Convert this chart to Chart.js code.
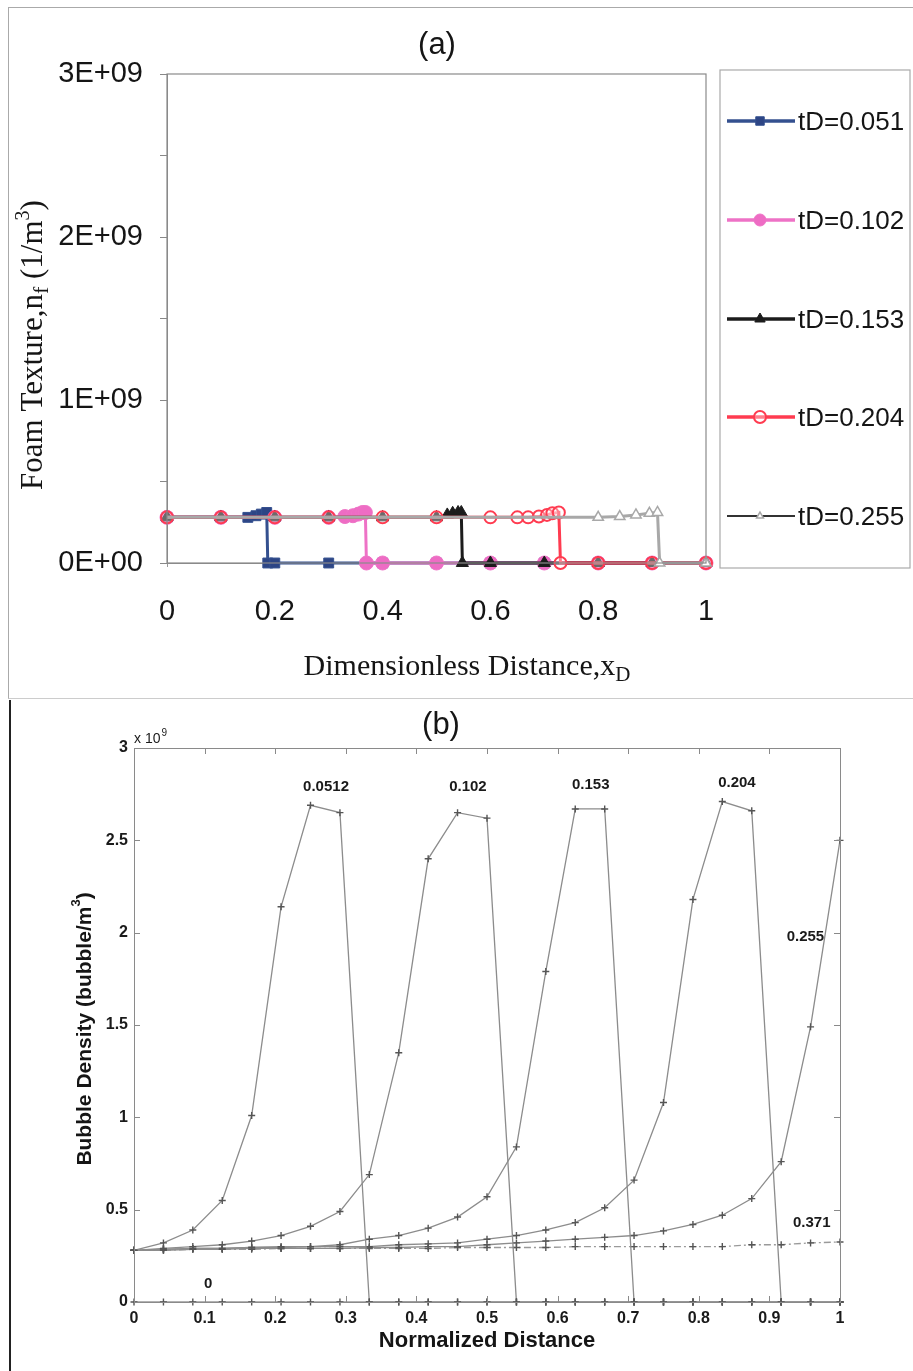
<!DOCTYPE html>
<html>
<head>
<meta charset="utf-8">
<script src="https://cdn.jsdelivr.net/npm/chart.js@4/dist/chart.umd.min.js"></script>
<style>
body{margin:0;background:#fff;width:913px;height:1371px;position:relative;overflow:hidden}
#pa{position:absolute;left:0;top:0}
#pb{position:absolute;left:12px;top:698px}
.frameA{position:absolute;left:8px;top:7px;width:905px;height:690px;border-left:1px solid #aaa;border-top:1px solid #aaa;border-bottom:1px solid #ccc}
.lineB{position:absolute;left:9px;top:700px;width:2px;height:671px;background:#222}
</style>
</head>
<body>
<div class="frameA"></div>
<div class="lineB"></div>
<canvas id="pa" width="913" height="697" style="width:913px;height:697px"></canvas>
<canvas id="pb" width="901" height="673" style="width:901px;height:673px"></canvas>
<script>
// ---- panel (a): foam texture vs dimensionless distance
const tdLabels = ['tD=0.051', 'tD=0.102', 'tD=0.153', 'tD=0.204', 'tD=0.255'];
const xA_051 = [0, 0.1, 0.15, 0.165, 0.175, 0.185, 0.187, 0.2, 0.3, 0.4, 0.5, 0.6, 0.7, 0.8, 0.9, 1];
const nf_051 = [2.8e8, 2.8e8, 2.8e8, 2.9e8, 3.0e8, 3.1e8, 0, 0, 0, 0, 0, 0, 0, 0, 0, 0];
const xA_102 = [0, 0.1, 0.2, 0.3, 0.33, 0.345, 0.355, 0.363, 0.368, 0.37, 0.4, 0.5, 0.6, 0.7, 0.8, 0.9, 1];
const nf_102 = [2.8e8, 2.8e8, 2.8e8, 2.8e8, 2.85e8, 2.9e8, 3.0e8, 3.1e8, 3.1e8, 0, 0, 0, 0, 0, 0, 0, 0];
const xA_153 = [0, 0.1, 0.2, 0.3, 0.4, 0.5, 0.52, 0.53, 0.54, 0.546, 0.548, 0.6, 0.7, 0.8, 0.9, 1];
const nf_153 = [2.8e8, 2.8e8, 2.8e8, 2.8e8, 2.8e8, 2.8e8, 2.95e8, 3.05e8, 3.1e8, 3.1e8, 0, 0, 0, 0, 0, 0];
const xA_204 = [0, 0.1, 0.2, 0.3, 0.4, 0.5, 0.6, 0.65, 0.67, 0.69, 0.705, 0.715, 0.727, 0.73, 0.8, 0.9, 1];
const nf_204 = [2.8e8, 2.8e8, 2.8e8, 2.8e8, 2.8e8, 2.8e8, 2.8e8, 2.8e8, 2.8e8, 2.85e8, 2.95e8, 3.05e8, 3.1e8, 0, 0, 0, 0];
const xA_255 = [0, 0.8, 0.84, 0.87, 0.895, 0.91, 0.914, 1];
const nf_255 = [2.8e8, 2.8e8, 2.85e8, 2.95e8, 3.05e8, 3.1e8, 0, 0];
const xTicksA = [0, 0.2, 0.4, 0.6, 0.8, 1];

// ---- panel (b): bubble density (x 10^9) vs normalized distance
const nodes = [0, 0.0417, 0.0833, 0.125, 0.1667, 0.2083, 0.25, 0.2917, 0.3333, 0.375, 0.4167, 0.4583, 0.5,
  0.5417, 0.5833, 0.625, 0.6667, 0.7083, 0.75, 0.7917, 0.8333, 0.875, 0.9167, 0.9583, 1];
const b_0 = [0, 0, 0, 0, 0, 0, 0, 0, 0, 0, 0, 0, 0, 0, 0, 0, 0, 0, 0, 0, 0, 0, 0, 0, 0];
const b_0512 = [0.28, 0.32, 0.39, 0.55, 1.01, 2.14, 2.69, 2.65, 0, 0, 0, 0, 0, 0, 0, 0, 0, 0, 0, 0, 0, 0, 0, 0, 0];
const b_102 = [0.28, 0.29, 0.30, 0.31, 0.33, 0.36, 0.41, 0.49, 0.69, 1.35, 2.40, 2.65, 2.62, 0, 0, 0, 0, 0, 0, 0, 0, 0, 0, 0, 0];
const b_153 = [0.28, 0.285, 0.29, 0.29, 0.295, 0.30, 0.30, 0.31, 0.34, 0.36, 0.40, 0.46, 0.57, 0.84, 1.79, 2.67, 2.67, 0, 0, 0, 0, 0, 0, 0, 0];
const b_204 = [0.28, 0.285, 0.29, 0.29, 0.295, 0.295, 0.30, 0.30, 0.30, 0.31, 0.315, 0.32, 0.34, 0.36, 0.39, 0.43, 0.51, 0.66, 1.08, 2.18, 2.71, 2.66, 0, 0, 0];
const b_255 = [0.28, 0.28, 0.285, 0.285, 0.29, 0.29, 0.29, 0.29, 0.295, 0.295, 0.30, 0.30, 0.31, 0.32, 0.33, 0.34, 0.35, 0.36, 0.385, 0.42, 0.47, 0.56, 0.76, 1.49, 2.50];
const b_371 = [0.28, 0.28, 0.285, 0.285, 0.285, 0.29, 0.29, 0.29, 0.29, 0.29, 0.29, 0.295, 0.295, 0.295, 0.295, 0.30, 0.30, 0.30, 0.30, 0.30, 0.30, 0.31, 0.31, 0.32, 0.325];
const curveLabels = ['0', '0.0512', '0.102', '0.153', '0.204', '0.255', '0.371'];

const SANS = '"Liberation Sans", Arial, sans-serif';
const SERIF = '"Liberation Serif", "Times New Roman", serif';

function pts(xs, ys) { return xs.map((x, i) => ({x: x, y: ys[i]})); }

function richText(ctx, parts, cx, cy, rot) {
  ctx.save();
  ctx.translate(cx, cy);
  if (rot) ctx.rotate(rot);
  let w = 0;
  parts.forEach(p => { ctx.font = p.font; p.w = ctx.measureText(p.t).width; w += p.w; });
  let x = -w / 2;
  ctx.textBaseline = 'middle';
  ctx.textAlign = 'left';
  parts.forEach(p => {
    ctx.font = p.font;
    ctx.fillStyle = p.color || '#151515';
    ctx.fillText(p.t, x, p.dy || 0);
    x += p.w;
  });
  ctx.restore();
}

// legend look for panel (a); tD=0.255 legend line is darker than its plotted line
const legendLine = ['#34508f', '#ee72c6', '#1c1c1c', '#ff3b50', '#333'];

const extrasA = {
  id: 'extrasA',
  afterDraw(chart) {
    const ctx = chart.ctx, a = chart.chartArea;
    ctx.save();
    ctx.strokeStyle = '#8a8a8a';
    ctx.lineWidth = 1.2;
    ctx.strokeRect(a.left, a.top, a.right - a.left, a.bottom - a.top);
    // legend box
    ctx.strokeStyle = '#aaa';
    ctx.strokeRect(720, 70, 190, 498);
    const ys = [121, 220, 319, 417, 516];
    chart.data.datasets.forEach((ds, i) => {
      const y = ys[i];
      ctx.strokeStyle = legendLine[i];
      ctx.lineWidth = i === 4 ? 2 : 3.5;
      ctx.beginPath(); ctx.moveTo(727, y); ctx.lineTo(795, y); ctx.stroke();
      ctx.fillStyle = ds.pointBackgroundColor;
      ctx.strokeStyle = ds.pointBorderColor;
      ctx.lineWidth = ds.pointBorderWidth;
      Chart.helpers.drawPoint(ctx, {pointStyle: ds.pointStyle, radius: i === 4 ? 4 : 6, borderWidth: ds.pointBorderWidth, rotation: 0}, 760, y);
      ctx.fillStyle = '#151515';
      ctx.font = '26px ' + SANS;
      ctx.textAlign = 'left';
      ctx.textBaseline = 'middle';
      ctx.fillText(ds.label, 798, y + 2);
    });
    ctx.restore();
    richText(ctx, [{t: '(a)', font: '31px ' + SANS}], 437, 45);
    richText(ctx, [
      {t: 'Dimensionless Distance,x', font: '30px ' + SERIF},
      {t: 'D', font: '21px ' + SERIF, dy: 8}
    ], 467, 667);
    richText(ctx, [
      {t: 'Foam Texture,n', font: '31px ' + SERIF},
      {t: 'f', font: '22px ' + SERIF, dy: 8},
      {t: ' (1/m', font: '31px ' + SERIF},
      {t: '3', font: '20px ' + SERIF, dy: -10},
      {t: ')', font: '31px ' + SERIF}
    ], 34, 345, -Math.PI / 2);
  }
};

function dsA(i, xs, ys, color, style, radius, fill, bw, order) {
  return {
    label: tdLabels[i], data: pts(xs, ys), showLine: true,
    borderColor: color, borderWidth: 3, order: order,
    pointStyle: style, pointRadius: radius, pointHoverRadius: radius,
    pointBackgroundColor: fill, pointBorderColor: color, pointBorderWidth: bw
  };
}

const grayA = dsA(4, xA_255, nf_255, '#a8a8a8', 'triangle', 6, '#ffffff', 1.5, 0);
grayA.pointRadius = c => c.dataIndex === 0 ? 0 : 6;

new Chart(document.getElementById('pa'), {
  type: 'scatter',
  data: {
    datasets: [
      dsA(0, xA_051, nf_051, '#34508f', 'rect', 7, '#2d4585', 1, 4),
      dsA(1, xA_102, nf_102, '#ee72c6', 'circle', 7, '#ee6cc4', 1, 3),
      dsA(2, xA_153, nf_153, '#1c1c1c', 'triangle', 7, '#1c1c1c', 1, 2),
      dsA(3, xA_204, nf_204, '#ff3b50', 'circle', 6, 'rgba(255,255,255,0.35)', 2, 1),
      grayA
    ]
  },
  options: {
    responsive: false, animation: false, devicePixelRatio: 1,
    clip: false,
    layout: {padding: {top: 74, right: 207, left: 0, bottom: 0}},
    plugins: {legend: {display: false}, tooltip: {enabled: false}},
    scales: {
      x: {
        type: 'linear', min: 0, max: 1,
        afterFit(s) { s.height = 134; },
        afterBuildTicks(s) { s.ticks = xTicksA.map(v => ({value: v})); },
        grid: {drawOnChartArea: false, tickLength: 4, color: '#999'},
        border: {color: '#8a8a8a'},
        ticks: {font: {family: SANS, size: 29}, color: '#151515', padding: 28,
          callback: v => String(+v.toFixed(1))}
      },
      y: {
        min: 0, max: 3e9,
        afterFit(s) { s.width = 167; },
        grid: {drawOnChartArea: false, tickLength: 7, color: '#888'},
        border: {color: '#8a8a8a'},
        ticks: {stepSize: 5e8, font: {family: SANS, size: 29}, color: '#151515', padding: 17,
          callback: v => v % 1e9 === 0 ? (v / 1e9) + (v === 0 ? 'E+00' : 'E+09') : ''}
      }
    }
  },
  plugins: [extrasA]
});

// ---- panel (b)
const annB = [
  {t: '0.0512', x: 0.272, y: 2.79},
  {t: '0.102', x: 0.473, y: 2.79},
  {t: '0.153', x: 0.647, y: 2.80},
  {t: '0.204', x: 0.854, y: 2.81},
  {t: '0.255', x: 0.951, y: 1.98},
  {t: '0.371', x: 0.96, y: 0.43},
  {t: '0', x: 0.105, y: 0.10}
];

const extrasB = {
  id: 'extrasB',
  afterDraw(chart) {
    const ctx = chart.ctx, a = chart.chartArea, sx = chart.scales.x, sy = chart.scales.y;
    ctx.save();
    ctx.strokeStyle = '#8a8a8a';
    ctx.lineWidth = 1;
    ctx.strokeRect(a.left + 0.5, a.top + 0.5, a.right - a.left, a.bottom - a.top);
    ctx.beginPath();
    sx.ticks.forEach(t => {
      const px = Math.round(sx.getPixelForValue(t.value)) + 0.5;
      ctx.moveTo(px, a.bottom); ctx.lineTo(px, a.bottom - 6);
      ctx.moveTo(px, a.top); ctx.lineTo(px, a.top + 6);
    });
    sy.ticks.forEach(t => {
      const py = Math.round(sy.getPixelForValue(t.value)) + 0.5;
      ctx.moveTo(a.left, py); ctx.lineTo(a.left + 6, py);
      ctx.moveTo(a.right, py); ctx.lineTo(a.right - 6, py);
    });
    ctx.stroke();
    ctx.fillStyle = '#1a1a1a';
    ctx.font = 'bold 15px ' + SANS;
    ctx.textAlign = 'center';
    ctx.textBaseline = 'middle';
    annB.forEach(n => ctx.fillText(n.t, sx.getPixelForValue(n.x), sy.getPixelForValue(n.y)));
    ctx.restore();
    richText(ctx, [{t: '(b)', font: '31px ' + SANS}], 429, 27);
    ctx.save();
    ctx.fillStyle = '#1a1a1a';
    ctx.textBaseline = 'alphabetic';
    ctx.font = '14px ' + SANS;
    ctx.fillText('x 10', a.left, a.top - 5);
    const w = ctx.measureText('x 10').width;
    ctx.font = '10px ' + SANS;
    ctx.fillText('9', a.left + w + 1, a.top - 12);
    ctx.restore();
    richText(ctx, [{t: 'Normalized Distance', font: 'bold 22px ' + SANS}], 475, 643);
    richText(ctx, [
      {t: 'Bubble Density (bubble/m', font: 'bold 21px ' + SANS},
      {t: '3', font: 'bold 13px ' + SANS, dy: -9},
      {t: ')', font: 'bold 21px ' + SANS}
    ], 73, 331, -Math.PI / 2);
  }
};

function dsB(i, ys, dash, color) {
  return {
    label: curveLabels[i], data: pts(nodes, ys), showLine: true,
    borderColor: color || '#8c8c8c', borderWidth: 1.3, borderDash: dash || [],
    pointStyle: 'cross', pointRadius: 3.5, pointHoverRadius: 3.5,
    pointBorderColor: '#555', pointBorderWidth: 1.4
  };
}

new Chart(document.getElementById('pb'), {
  type: 'scatter',
  data: {
    datasets: [
      dsB(0, b_0, null, '#999'),
      dsB(1, b_0512),
      dsB(2, b_102),
      dsB(3, b_153),
      dsB(4, b_204),
      dsB(5, b_255),
      dsB(6, b_371, [7, 3, 2, 3], '#9a9a9a')
    ]
  },
  options: {
    responsive: false, animation: false, devicePixelRatio: 1,
    clip: false,
    layout: {padding: {top: 50, right: 73, left: 0, bottom: 0}},
    plugins: {legend: {display: false}, tooltip: {enabled: false}},
    scales: {
      x: {
        type: 'linear', min: 0, max: 1,
        afterFit(s) { s.height = 69; },
        grid: {display: false, drawTicks: false},
        border: {display: false},
        ticks: {stepSize: 0.1, font: {family: SANS, size: 16, weight: 'bold'}, color: '#1a1a1a', padding: 7,
          callback: v => String(+v.toFixed(1))}
      },
      y: {
        min: 0, max: 3,
        afterFit(s) { s.width = 122; },
        grid: {display: false, drawTicks: false},
        border: {display: false},
        ticks: {stepSize: 0.5, font: {family: SANS, size: 16, weight: 'bold'}, color: '#1a1a1a', padding: 6,
          callback: v => String(+v.toFixed(1))}
      }
    }
  },
  plugins: [extrasB]
});
</script>
</body>
</html>
